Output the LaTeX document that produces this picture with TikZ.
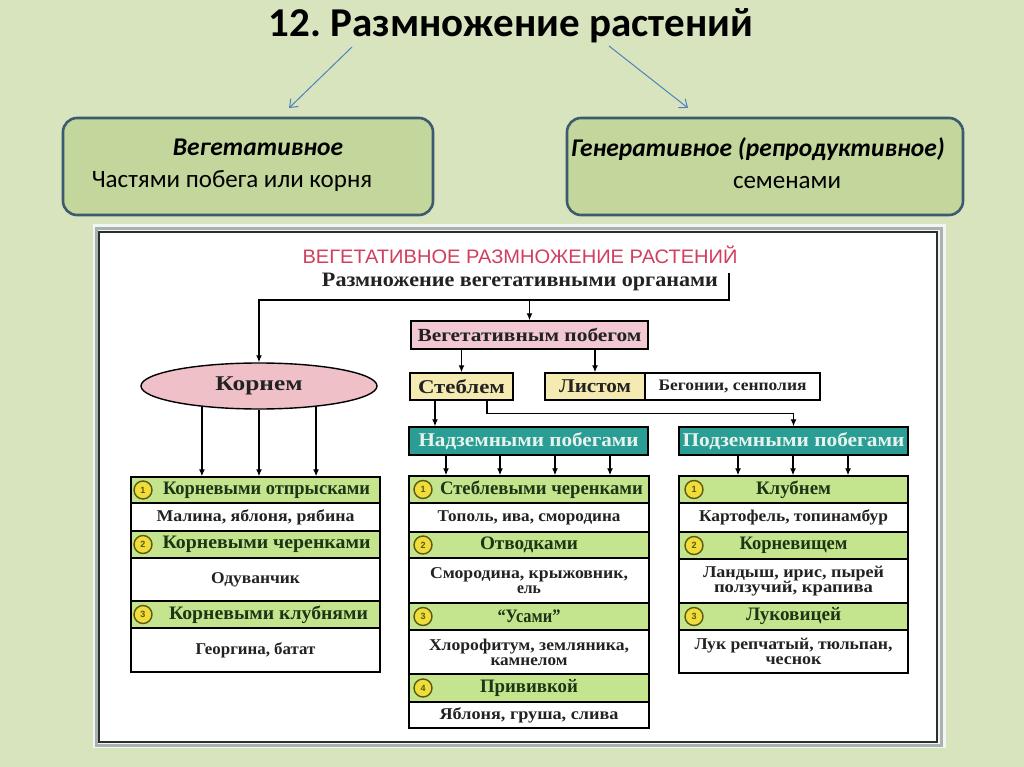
\documentclass[tikz,border=0pt]{standalone}
\usepackage{fontspec}
\usepackage{graphicx}
\setmainfont{Carlito}
\newfontfamily\cf{Liberation Serif}
\newfontfamily\hf{Liberation Sans}
\usetikzlibrary{arrows.meta,shapes.geometric}
\newcommand\fitto[2]{\resizebox{#1pt}{\height}{#2}}
\newcommand\cellat[7]{\node[#6, minimum width={#4-#2}, minimum height={#5-#3}] (#1) at ({(#2+#4)/2},{(#3+#5)/2}) {#7};}
\definecolor{bg}{HTML}{D7E4BD}
\definecolor{boxfill}{HTML}{C3D69B}
\definecolor{boxborder}{HTML}{3D5B6E}
\definecolor{tarrow}{HTML}{4F81BD}
\definecolor{hdrgreen}{HTML}{C5E48E}
\definecolor{hdrtext}{HTML}{1C3514}
\definecolor{bodytext}{HTML}{222222}
\definecolor{pinkbox}{HTML}{F2C8D2}
\definecolor{pinkell}{HTML}{F0C0C8}
\definecolor{yelbox}{HTML}{F5EBB2}
\definecolor{tealbox}{HTML}{2A9D94}
\definecolor{tealtext}{HTML}{E6F2EC}
\definecolor{redhd}{HTML}{D23F5E}
\definecolor{numfill}{HTML}{F0DC3A}
\definecolor{numborder}{HTML}{5A5A10}
\definecolor{framegrey}{HTML}{A9B1B1}
\definecolor{framedark}{HTML}{2A3030}
\definecolor{framelight}{HTML}{F2F5F1}
\tikzset{
  topbox/.style={rounded corners=14pt, draw=boxborder, line width=2.6pt, fill=boxfill, inner sep=0pt},
  tarr/.style={draw=tarrow, line width=1pt, -{Straight Barb[length=7pt,width=11pt]}},
  cell/.style={draw=black, line width=1.4pt, inner sep=0pt, anchor=center},
  hcell/.style={cell, fill=hdrgreen, font={\cf\bfseries\fontsize{19}{19}\selectfont}, text=hdrtext},
  bcell/.style={cell, fill=white, font={\cf\bfseries\fontsize{16.5}{15}\selectfont}, text=bodytext, align=center},
  numc/.style={circle, draw=numborder, line width=1.4pt, fill=numfill, minimum size=18pt, inner sep=0pt, font={\hf\bfseries\fontsize{9}{9}\selectfont}, text=numborder},
  arr/.style={draw=black, line width=1.3pt, -{Latex[length=7pt,width=6pt]}},
  lin/.style={draw=black, line width=1.3pt}
}
\begin{document}
\begin{tikzpicture}[x=1pt,y=-1pt]
\useasboundingbox (0,0) rectangle (1024,767);
\fill[bg] (0,0) rectangle (1024,767);

% title and top boxes
\node[font={\fontsize{41}{48}\selectfont\bfseries}, anchor=base, text=black] (title) at (511,37) {12.\ Размножение растений};
\node[topbox, minimum width=370pt, minimum height=97pt] (vegbox) at (248,166.5) {};
\node[topbox, minimum width=396pt, minimum height=97pt] (genbox) at (765,166.5) {};
\node[font={\fontsize{25.5}{28}\selectfont\bfseries\itshape}, anchor=base] (vegt1) at (258,156) {Вегетативное};
\node[font={\fontsize{25}{28}\selectfont}, anchor=base] (vegt2) at (232,188) {Частями побега или корня};
\node[font={\fontsize{25.5}{28}\selectfont\bfseries\itshape}, anchor=base] (gent1) at (758,157) {Генеративное (репродуктивное)};
\node[font={\fontsize{25}{28}\selectfont}, anchor=base] (gent2) at (787,189) {семенами};
\coordinate (a1s) at (352,47);
\coordinate (a1e) at (289,108);
\coordinate (a2s) at (609,46);
\coordinate (a2e) at (688,108);
\draw[tarr] (a1s) -- (a1e);
\draw[tarr] (a2s) -- (a2e);

% chart frame
\fill[framelight] (93,224) rectangle (946,748);
\draw[framegrey, line width=3pt] (96.5,228.5) rectangle (941,745);
\draw[framedark, line width=1.6pt, fill=white] (99,232) rectangle (937,742);

% chart headings
\node[font={\hf\fontsize{19.5}{19}\selectfont}, text=redhd, inner sep=0pt] (hd) at (520,255) {\fitto{435}{ВЕГЕТАТИВНОЕ РАЗМНОЖЕНИЕ РАСТЕНИЙ}};
\node[font={\cf\bfseries\fontsize{20.5}{20}\selectfont}, text=bodytext, inner sep=0pt] (org) at (520,282) {\fitto{396}{Размножение вегетативными органами}};

% upper boxes
\node[ellipse, draw=black, line width=1.4pt, fill=pinkell, minimum width=236pt, minimum height=46pt, inner sep=0pt, font={\cf\bfseries\fontsize{21}{21}\selectfont}, text=bodytext] (kor) at (259,386) {\fitto{87}{Корнем}};
\cellat{veg}{411}{321}{648}{349}{cell, fill=pinkbox, font={\cf\bfseries\fontsize{18.5}{18}\selectfont}, text=bodytext}{\fitto{224}{Вегетативным побегом}}
\cellat{steb}{410}{373}{513}{400}{cell, fill=yelbox, font={\cf\bfseries\fontsize{19.5}{19}\selectfont}, text=bodytext}{\fitto{87}{Стеблем}}
\cellat{list}{545}{373}{645}{400}{cell, fill=yelbox, font={\cf\bfseries\fontsize{19.5}{19}\selectfont}, text=bodytext}{\fitto{72}{Листом}}
\cellat{beg}{645}{373}{820}{400}{cell, fill=white, font={\cf\bfseries\fontsize{16}{16}\selectfont}, text=bodytext}{\fitto{148}{Бегонии, сенполия}}
\cellat{nad}{409}{427}{648}{455}{cell, fill=tealbox, font={\cf\bfseries\fontsize{19.5}{19}\selectfont}, text=tealtext}{\fitto{220}{Надземными побегами}}
\cellat{pod}{679}{427}{908}{455}{cell, fill=tealbox, font={\cf\bfseries\fontsize{19.5}{19}\selectfont}, text=tealtext}{\fitto{222}{Подземными побегами}}

% left column
\cellat{K1h}{131}{477}{380}{503}{hcell}{\hspace*{22pt}\fitto{207}{Корневыми отпрысками}}
\cellat{K1b}{131}{503}{380}{531}{bcell}{\fitto{198}{Малина, яблоня, рябина}}
\cellat{K2h}{131}{531}{380}{558}{hcell}{\hspace*{22pt}\fitto{208}{Корневыми черенками}}
\cellat{K2b}{131}{558}{380}{601}{bcell}{\fitto{89}{Одуванчик}}
\cellat{K3h}{131}{601}{380}{628}{hcell}{\hspace*{26pt}\fitto{199}{Корневыми клубнями}}
\cellat{K3b}{131}{628}{380}{672}{bcell}{\fitto{120}{Георгина, батат}}
\node[numc] (kn1) at (143,490) {1};
\node[numc] (kn2) at (143,544.5) {2};
\node[numc] (kn3) at (143,614.5) {3};

% middle column
\cellat{S1h}{409}{476}{649}{503}{hcell}{\hspace*{25pt}\fitto{203}{Стеблевыми черенками}}
\cellat{S1b}{409}{503}{649}{532}{bcell}{\fitto{183}{Тополь, ива, смородина}}
\cellat{S2h}{409}{532}{649}{558}{hcell}{\fitto{98}{Отводками}}
\cellat{S2b}{409}{558}{649}{603}{bcell}{\fitto{198}{Смородина, крыжовник,}\\\fitto{24}{ель}}
\cellat{S3h}{409}{603}{649}{630}{hcell}{\fitto{63}{“Усами”}}
\cellat{S3b}{409}{630}{649}{674}{bcell}{\fitto{200}{Хлорофитум, земляника,}\\\fitto{77}{камнелом}}
\cellat{S4h}{409}{674}{649}{702}{hcell}{\fitto{98}{Прививкой}}
\cellat{S4b}{409}{702}{649}{728}{bcell}{\fitto{179}{Яблоня, груша, слива}}
\node[numc] (sn1) at (423,489.5) {1};
\node[numc] (sn2) at (423,545) {2};
\node[numc] (sn3) at (423,616.5) {3};
\node[numc] (sn4) at (423,688) {4};

% right column
\cellat{P1h}{679}{476}{908}{503}{hcell}{\fitto{75}{Клубнем}}
\cellat{P1b}{679}{503}{908}{532}{bcell}{\fitto{189}{Картофель, топинамбур}}
\cellat{P2h}{679}{532}{908}{559}{hcell}{\fitto{108}{Корневищем}}
\cellat{P2b}{679}{559}{908}{603}{bcell}{\fitto{181}{Ландыш, ирис, пырей}\\\fitto{159}{ползучий, крапива}}
\cellat{P3h}{679}{603}{908}{630}{hcell}{\fitto{95}{Луковицей}}
\cellat{P3b}{679}{630}{908}{673}{bcell}{\fitto{198}{Лук репчатый, тюльпан,}\\\fitto{56}{чеснок}}
\node[numc] (pn1) at (694,489.5) {1};
\node[numc] (pn2) at (694,545.5) {2};
\node[numc] (pn3) at (694,616.5) {3};

% connectors
\coordinate (c1) at (729,273);
\coordinate (c2) at (729,300);
\draw[arr] (c1) -- (c2) -| (kor.north);
\draw[arr] (veg.north |- c2) -- (veg.north);
\draw[arr] (veg.south -| steb.north) -- (steb.north);
\draw[arr] (veg.south -| list.north) -- (list.north);
\draw[arr] ([xshift=-26.5pt]steb.south) -- ([xshift=-26.5pt]steb.south |- nad.north);
\draw[arr] ([xshift=25.5pt]steb.south) -- ++(0,13) -| (pod.north);
\draw[arr] (kor.200) -- (kor.200 |- K1h.north);
\draw[arr] (kor.south) -- (kor.south |- K1h.north);
\draw[arr] (kor.340) -- (kor.340 |- K1h.north);
\foreach \dx in {-82.5,-28.5,26.5,81.5} {
  \draw[arr] ([xshift=\dx pt]nad.south) -- ([xshift=\dx pt]nad.south |- S1h.north);
}
\foreach \dx in {-55.5,-0.5,54.5} {
  \draw[arr] ([xshift=\dx pt]pod.south) -- ([xshift=\dx pt]pod.south |- P1h.north);
}
\end{tikzpicture}
\end{document}
